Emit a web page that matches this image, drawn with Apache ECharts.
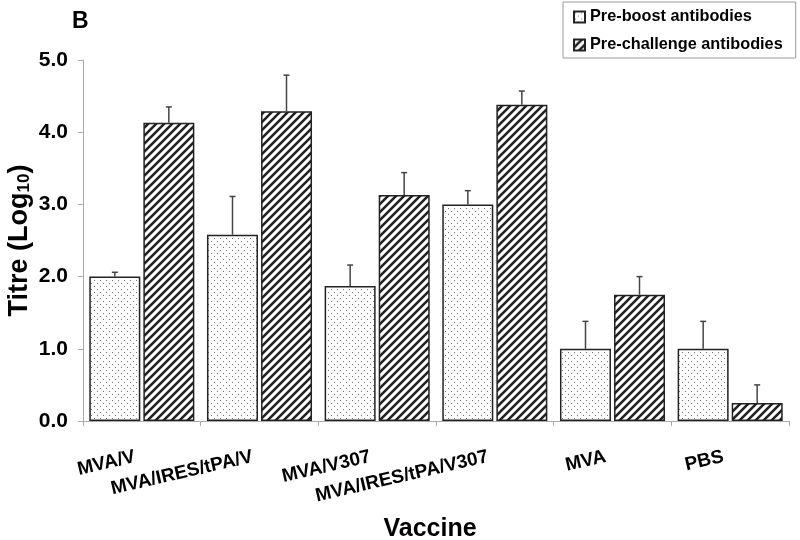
<!DOCTYPE html>
<html>
<head>
<meta charset="utf-8">
<script src="https://cdn.jsdelivr.net/npm/echarts@6/dist/echarts.min.js"></script>
<style>
html,body{margin:0;padding:0;background:#fff;}
#chart{width:800px;height:540px;}
</style>
</head>
<body>
<div id="chart"></div>
<script>
// ---- data ----
const categories = ['MVA/V', 'MVA/IRES/tPA/V', 'MVA/V307', 'MVA/IRES/tPA/V307', 'MVA', 'PBS'];
const preBoost = [2.00, 2.58, 1.87, 3.00, 1.00, 1.00];
const preBoostErr = [0.06, 0.53, 0.29, 0.19, 0.38, 0.38];
const preChallenge = [4.13, 4.29, 3.13, 4.38, 1.75, 0.25];
const preChallengeErr = [0.22, 0.50, 0.31, 0.19, 0.25, 0.25];
const yTicks = [0, 1, 2, 3, 4, 5];
const seriesNames = ['Pre-boost antibodies', 'Pre-challenge antibodies'];

const FONT = "'Liberation Sans', Arial, sans-serif";

function dotPattern() {
  const c = document.createElement('canvas');
  c.width = 6; c.height = 6;
  const g = c.getContext('2d');
  g.fillStyle = '#fff'; g.fillRect(0, 0, 6, 6);
  g.fillStyle = '#777';
  g.fillRect(1, 1, 1, 1);
  g.fillRect(4, 4, 1, 1);
  return c;
}
function hatchPattern() {
  const s = 8;
  const c = document.createElement('canvas');
  c.width = s; c.height = s;
  const g = c.getContext('2d');
  g.fillStyle = '#fff'; g.fillRect(0, 0, s, s);
  g.strokeStyle = '#222'; g.lineWidth = 2.6;
  g.beginPath();
  g.moveTo(-2, s + 2); g.lineTo(s + 2, -2);
  g.moveTo(-2, 2); g.lineTo(2, -2);
  g.moveTo(s - 2, s + 2); g.lineTo(s + 2, s - 2);
  g.stroke();
  return c;
}

const BAR_W = 51;
const OFFSET = 27;

function errData(vals, errs) {
  return vals.map((v, i) => [i, v, errs[i]]);
}
function errRender(offset) {
  return function (params, api) {
    const i = api.value(0);
    const top = api.coord([i, api.value(1)]);
    const hi = api.coord([i, api.value(1) + api.value(2)]);
    const x = top[0] + offset;
    const st = { stroke: '#444', lineWidth: 1.5 };
    return {
      type: 'group',
      children: [
        { type: 'line', shape: { x1: x, y1: top[1], x2: x, y2: hi[1] }, style: st },
        { type: 'line', shape: { x1: x - 3, y1: hi[1], x2: x + 3, y2: hi[1] }, style: st }
      ]
    };
  };
}

const chart = echarts.init(document.getElementById('chart'), null, { renderer: 'canvas' });
chart.setOption({
  animation: false,
  backgroundColor: '#fff',
  textStyle: { fontFamily: FONT },
  title: {
    text: 'B', left: 67, top: 5,
    textStyle: { fontFamily: FONT, fontSize: 23, fontWeight: 'bold', color: '#000' }
  },
  legend: {
    orient: 'vertical', left: 563, top: 2,
    padding: [6, 13, 4, 10],
    itemGap: 10, itemWidth: 11, itemHeight: 11,
    icon: 'rect',
    borderColor: '#999', borderWidth: 1,
    data: seriesNames,
    textStyle: { fontFamily: FONT, fontSize: 16.3, fontWeight: 'bold', color: '#000', lineHeight: 18 }
  },
  grid: { left: 83, right: 11, top: 60, bottom: 119, containLabel: false, outerBoundsMode: 'none' },
  xAxis: {
    type: 'category',
    data: categories,
    name: 'Vaccine',
    nameLocation: 'middle',
    nameGap: 96,
    nameMoveOverlap: false,
    nameTextStyle: { fontFamily: FONT, fontSize: 25, fontWeight: 'bold', color: '#000', padding: [0, 12, 0, 0] },
    axisLine: { lineStyle: { color: '#aaa', width: 1 } },
    axisTick: { show: true, alignWithLabel: false, length: 5, lineStyle: { color: '#aaa' } },
    axisLabel: {
      interval: 0, rotate: 13, margin: 34,
      padding: [0, 7, 0, 0],
      fontFamily: FONT, fontSize: 19, fontWeight: 'bold', color: '#000'
    },
    splitLine: { show: false }
  },
  yAxis: {
    type: 'value',
    min: yTicks[0], max: yTicks[yTicks.length - 1], interval: 1,
    name: '{t|Titre (Log}{s|10}{t|)}',
    nameLocation: 'middle',
    nameGap: 50,
    nameMoveOverlap: false,
    nameTextStyle: {
      rich: {
        t: { fontFamily: FONT, fontSize: 27, fontWeight: 'bold', color: '#000' },
        s: { fontFamily: FONT, fontSize: 17, fontWeight: 'bold', color: '#000', verticalAlign: 'bottom', padding: [10, 0, 0, 0] }
      }
    },
    axisLine: { show: true, lineStyle: { color: '#aaa', width: 1 } },
    axisTick: { show: true, length: 5, lineStyle: { color: '#aaa' } },
    axisLabel: {
      margin: 15,
      fontFamily: FONT, fontSize: 21, fontWeight: 'bold', color: '#000',
      formatter: v => v.toFixed(1)
    },
    splitLine: { show: false }
  },
  series: [
    {
      name: seriesNames[0], type: 'bar', data: preBoost,
      barWidth: BAR_W, barGap: '6%',
      itemStyle: { color: { image: dotPattern(), repeat: 'repeat' }, borderColor: '#222', borderWidth: 1.5 }
    },
    {
      name: seriesNames[1], type: 'bar', data: preChallenge,
      barWidth: BAR_W, barGap: '6%',
      itemStyle: { color: { image: hatchPattern(), repeat: 'repeat' }, borderColor: '#222', borderWidth: 1.5 }
    },
    {
      type: 'custom', renderItem: errRender(-OFFSET),
      data: errData(preBoost, preBoostErr), z: 10, silent: true,
      encode: { x: 0, y: 1 }
    },
    {
      type: 'custom', renderItem: errRender(OFFSET),
      data: errData(preChallenge, preChallengeErr), z: 10, silent: true,
      encode: { x: 0, y: 1 }
    }
  ]
});
</script>
</body>
</html>
